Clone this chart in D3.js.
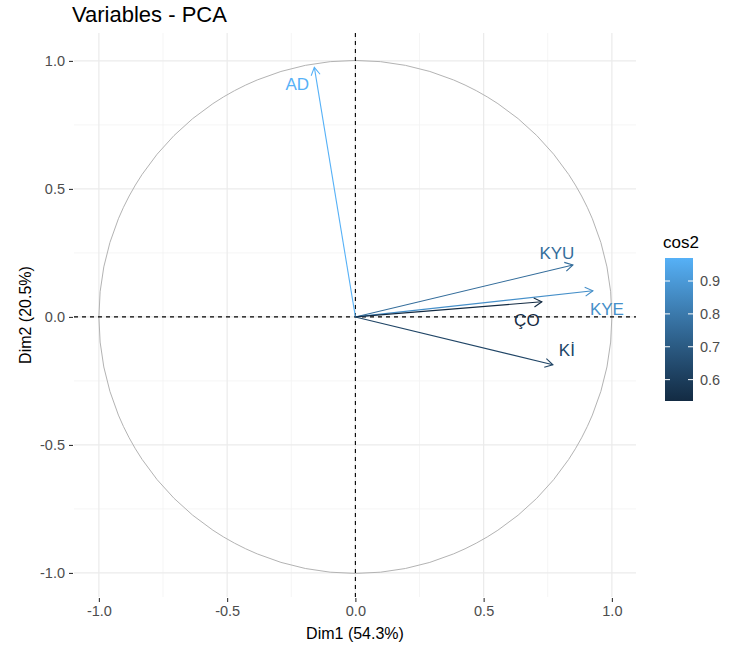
<!DOCTYPE html>
<html>
<head>
<meta charset="utf-8">
<script src="https://cdn.jsdelivr.net/npm/d3@7"></script>
<style>
  body { margin: 0; background: #fff; }
  text { font-family: "Liberation Sans", Arial, sans-serif; }
</style>
</head>
<body>
<div id="chart"></div>
<script>
var svgWidth = 730;
var svgHeight = 650;

// variable coordinates (Dim1, Dim2)
var varNames = ["AD", "KYU", "KYE", "ÇO", "Kİ"];
var dim1 = [-0.16, 0.848, 0.926, 0.727, 0.770];
var dim2 = [0.975, 0.203, 0.102, 0.059, -0.187];
var ticks = [-1.0, -0.5, 0.0, 0.5, 1.0];
var legendTicks = [0.6, 0.7, 0.8, 0.9];

// label nudges in px (ggrepel style placement)
var labelDx = [-17, -16, 14, -15, 14];
var labelDy = [17, -12, 18, 18, -15];

var cos2 = dim1.map((d, i) => d * d + dim2[i] * dim2[i]);

var panel = { left: 74, right: 636, top: 33, bottom: 597 };

var svg = d3.select("#chart").append("svg")
  .attr("width", svgWidth)
  .attr("height", svgHeight);

var x = d3.scaleLinear().domain([-1.097, 1.094]).range([panel.left, panel.right]);
var y = d3.scaleLinear().domain([-1.094, 1.109]).range([panel.bottom, panel.top]);

var color = d3.scaleLinear()
  .domain([0.535, 0.97])
  .range(["#132B43", "#56B1F7"])
  .interpolate(d3.interpolateLab)
  .clamp(true);

// grid
var grid = svg.append("g");
var minor = [-0.75, -0.25, 0.25, 0.75];
minor.forEach(v => {
  grid.append("line").attr("x1", x(v)).attr("x2", x(v)).attr("y1", panel.top).attr("y2", panel.bottom)
    .attr("stroke", "#F2F2F2").attr("stroke-width", 0.8);
  grid.append("line").attr("y1", y(v)).attr("y2", y(v)).attr("x1", panel.left).attr("x2", panel.right)
    .attr("stroke", "#F2F2F2").attr("stroke-width", 0.8);
});
ticks.forEach(v => {
  grid.append("line").attr("x1", x(v)).attr("x2", x(v)).attr("y1", panel.top).attr("y2", panel.bottom)
    .attr("stroke", "#EBEBEB").attr("stroke-width", 1.2);
  grid.append("line").attr("y1", y(v)).attr("y2", y(v)).attr("x1", panel.left).attr("x2", panel.right)
    .attr("stroke", "#EBEBEB").attr("stroke-width", 1.2);
});

// axes
var fmt = d => d.toFixed(1);
var xAxis = svg.append("g")
  .attr("transform", `translate(0, ${panel.bottom})`)
  .call(d3.axisBottom(x).tickValues(ticks).tickFormat(fmt).tickSize(5).tickPadding(4));
var yAxis = svg.append("g")
  .attr("transform", `translate(${panel.left}, 0)`)
  .call(d3.axisLeft(y).tickValues(ticks).tickFormat(fmt).tickSize(5).tickPadding(4));
[xAxis, yAxis].forEach(a => {
  a.select(".domain").remove();
  a.selectAll(".tick line").attr("stroke", "#333333").attr("stroke-width", 1.1);
  a.selectAll(".tick text").attr("fill", "#4D4D4D").style("font-size", "14.5px")
    .style("font-family", "Liberation Sans, Arial, sans-serif");
});
xAxis.selectAll(".tick line").attr("y1", 1);
yAxis.selectAll(".tick line").attr("x1", -1);

// unit circle
svg.append("circle")
  .attr("cx", x(0)).attr("cy", y(0))
  .attr("r", x(1) - x(0))
  .attr("fill", "none")
  .attr("stroke", "#B3B3B3")
  .attr("stroke-width", 1);

// dashed axes
svg.append("line").attr("x1", panel.left).attr("x2", panel.right).attr("y1", y(0)).attr("y2", y(0))
  .attr("stroke", "#000").attr("stroke-dasharray", "4,4").attr("stroke-width", 1.1);
svg.append("line").attr("y1", panel.top).attr("y2", panel.bottom).attr("x1", x(0)).attr("x2", x(0))
  .attr("stroke", "#000").attr("stroke-dasharray", "4,4").attr("stroke-width", 1.1);

// arrows
var arrows = svg.append("g");
varNames.forEach((name, i) => {
  var c = color(cos2[i]);
  var x0 = x(0), y0 = y(0), x1 = x(dim1[i]), y1 = y(dim2[i]);
  var ang = Math.atan2(y1 - y0, x1 - x0);
  var len = 9, spread = Math.PI / 6;
  arrows.append("line")
    .attr("x1", x0).attr("y1", y0).attr("x2", x1).attr("y2", y1)
    .attr("stroke", c).attr("stroke-width", 1.1);
  arrows.append("path")
    .attr("d", `M${x1 - len * Math.cos(ang - spread)},${y1 - len * Math.sin(ang - spread)}` +
      `L${x1},${y1}` +
      `L${x1 - len * Math.cos(ang + spread)},${y1 - len * Math.sin(ang + spread)}`)
    .attr("fill", "none").attr("stroke", c).attr("stroke-width", 1.1);
  arrows.append("text")
    .attr("x", x1 + labelDx[i]).attr("y", y1 + labelDy[i])
    .attr("text-anchor", "middle")
    .attr("dy", "0.35em")
    .attr("fill", c)
    .style("font-size", "17px")
    .text(name);
});

// titles
svg.append("text").attr("x", 72).attr("y", 22)
  .style("font-size", "22px").attr("fill", "#000").text("Variables - PCA");
svg.append("text").attr("x", (panel.left + panel.right) / 2).attr("y", 639)
  .attr("text-anchor", "middle").style("font-size", "16px").attr("fill", "#000").text("Dim1 (54.3%)");
svg.append("text")
  .attr("transform", `translate(31, ${(panel.top + panel.bottom) / 2}) rotate(-90)`)
  .attr("text-anchor", "middle").style("font-size", "16px").attr("fill", "#000").text("Dim2 (20.5%)");

// legend
var leg = { x: 665, top: 258, w: 28, bottom: 401 };
var ly = d3.scaleLinear().domain(color.domain()).range([leg.bottom, leg.top]);
var defs = svg.append("defs");
var grad = defs.append("linearGradient").attr("id", "cosGrad")
  .attr("x1", 0).attr("x2", 0).attr("y1", 1).attr("y2", 0);
d3.range(0, 1.001, 0.1).forEach(t => {
  var v = color.domain()[0] + t * (color.domain()[1] - color.domain()[0]);
  grad.append("stop").attr("offset", t).attr("stop-color", color(v));
});
svg.append("rect").attr("x", leg.x).attr("y", leg.top).attr("width", leg.w)
  .attr("height", leg.bottom - leg.top).attr("fill", "url(#cosGrad)");
svg.append("text").attr("x", leg.x - 2).attr("y", leg.top - 10)
  .style("font-size", "17px").attr("fill", "#000").text("cos2");
legendTicks.forEach(v => {
  svg.append("line").attr("x1", leg.x).attr("x2", leg.x + 5).attr("y1", ly(v)).attr("y2", ly(v))
    .attr("stroke", "#fff").attr("stroke-width", 1);
  svg.append("line").attr("x1", leg.x + leg.w - 5).attr("x2", leg.x + leg.w).attr("y1", ly(v)).attr("y2", ly(v))
    .attr("stroke", "#fff").attr("stroke-width", 1);
  svg.append("text").attr("x", leg.x + leg.w + 7).attr("y", ly(v)).attr("dy", "0.35em")
    .style("font-size", "14.5px").attr("fill", "#4D4D4D").text(v.toFixed(1));
});
</script>
</body>
</html>
